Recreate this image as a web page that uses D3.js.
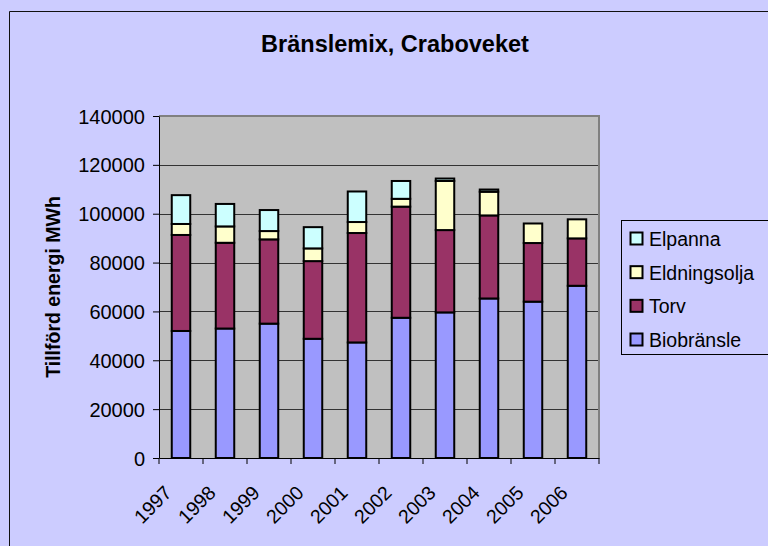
<!DOCTYPE html>
<html>
<head>
<meta charset="utf-8">
<script src="https://cdn.jsdelivr.net/npm/d3@7"></script>
<style>
  html, body { margin: 0; padding: 0; background: #CCCCFF; }
  svg { display: block; }
  text { font-family: Arial, "Liberation Sans", sans-serif; fill: #000; }
</style>
</head>
<body>
<svg id="chart" width="768" height="546"></svg>
<script>
// ---- data ----
const years = ["1997","1998","1999","2000","2001","2002","2003","2004","2005","2006"];
const biobransle   = [52000, 53000, 55000, 48800, 47300, 57400, 59600, 65300, 64000, 70500];
const torv         = [39300, 35100, 34500, 31800, 44800, 45500, 33700, 34000, 24000, 19400];
const eldningsolja = [ 4500,  6700,  3400,  5200,  4500,  3200, 20100,  9700,  8000,  7800];
const elpanna      = [11800,  9200,  8600,  8700, 12500,  7300,  1000,   900,     0,     0];
const seriesNames  = ["Biobränsle", "Torv", "Eldningsolja", "Elpanna"];
const seriesColors = ["#9999FF", "#993366", "#FFFFCC", "#CCFFFF"];
const yTicks = [0, 20000, 40000, 60000, 80000, 100000, 120000, 140000];
const chartTitle = "Bränslemix,  Craboveket";
const yTitle = "Tillförd energi MWh";

// ---- layout ----
const W = 768, H = 546;
const plot = { left: 159, right: 599, top: 116, bottom: 458 };

const svg = d3.select("#chart");

svg.append("rect").attr("x", 0).attr("y", 0).attr("width", W).attr("height", H).attr("fill", "#CCCCFF");
// chart area border
svg.append("path").attr("d", `M9.5,${H} V11.5 H${W}`).attr("fill", "none").attr("stroke", "#111").attr("stroke-width", 1);

const table = years.map((y, i) => ({
  year: y,
  "Biobränsle": biobransle[i],
  "Torv": torv[i],
  "Eldningsolja": eldningsolja[i],
  "Elpanna": elpanna[i]
}));
const stacked = d3.stack().keys(seriesNames)(table);

const x = d3.scaleBand().domain(years).range([plot.left, plot.right]).paddingInner(0).paddingOuter(0);
const y = d3.scaleLinear().domain([0, 140000]).range([plot.bottom, plot.top]);
const color = d3.scaleOrdinal().domain(seriesNames).range(seriesColors);

// plot area
svg.append("rect").attr("x", plot.left).attr("y", plot.top)
  .attr("width", plot.right - plot.left).attr("height", plot.bottom - plot.top)
  .attr("fill", "#C0C0C0");
svg.append("path")
  .attr("d", `M${plot.left},${plot.top} H${plot.right} V${plot.bottom}`)
  .attr("fill", "none").attr("stroke", "#808080").attr("stroke-width", 2);

// gridlines
svg.append("g").selectAll("line").data(yTicks.filter(t => t > 0 && t < 140000)).join("line")
  .attr("x1", plot.left).attr("x2", plot.right - 1)
  .attr("y1", d => Math.round(y(d)) + 0.5).attr("y2", d => Math.round(y(d)) + 0.5)
  .attr("stroke", "#333").attr("stroke-width", 1);

// bars
const barW = x.bandwidth() * 0.42;
svg.append("g").selectAll("g").data(stacked).join("g")
  .attr("fill", d => color(d.key))
  .selectAll("rect").data(d => d.filter(s => s[1] - s[0] > 0)).join("rect")
  .attr("x", d => x(d.data.year) + (x.bandwidth() - barW) / 2)
  .attr("width", barW)
  .attr("y", d => y(d[1]))
  .attr("height", d => y(d[0]) - y(d[1]))
  .attr("stroke", "#000").attr("stroke-width", 2);

// y axis
const yAxis = svg.append("g").attr("transform", `translate(${plot.left},0)`)
  .call(d3.axisLeft(y).tickValues(yTicks).tickSize(6).tickSizeOuter(0).tickPadding(8).tickFormat(d3.format("d")));
yAxis.select(".domain").attr("stroke", "#000");
yAxis.selectAll(".tick line").attr("stroke", "#000");
yAxis.selectAll(".tick text").attr("font-size", 20).attr("dy", null)
  .attr("dominant-baseline", "central");

// x axis
const xAxis = svg.append("g").attr("transform", `translate(0,${plot.bottom})`)
  .call(d3.axisBottom(x).tickSize(0).tickSizeOuter(0));
xAxis.select(".domain").attr("stroke", "#000");
xAxis.selectAll(".tick text").attr("font-size", 19.5).attr("y", 0).attr("dy", null)
  .attr("text-anchor", "end").attr("dominant-baseline", "central")
  .attr("transform", "translate(-13,31) rotate(-45)");
// category boundary ticks
svg.append("g").selectAll("line").data(d3.range(years.length + 1)).join("line")
  .attr("x1", i => plot.left + i * x.step()).attr("x2", i => plot.left + i * x.step())
  .attr("y1", plot.bottom).attr("y2", plot.bottom + 6)
  .attr("stroke", "#000");

// title
svg.append("text").attr("x", 395).attr("y", 44)
  .attr("text-anchor", "middle").attr("dominant-baseline", "central")
  .attr("font-size", 23.5).attr("font-weight", "bold").text(chartTitle);

// y title
svg.append("text").attr("transform", "translate(53,287) rotate(-90)")
  .attr("text-anchor", "middle").attr("dominant-baseline", "central")
  .attr("font-size", 19.5).attr("font-weight", "bold").text(yTitle);

// legend
const lg = { x: 621, y: 220, w: 160, h: 134 };
svg.append("rect").attr("x", lg.x + 0.5).attr("y", lg.y + 0.5).attr("width", lg.w).attr("height", lg.h)
  .attr("fill", "#CCCCFF").attr("stroke", "#000").attr("stroke-width", 1);
const legendOrder = seriesNames.slice().reverse();
const rowY = d3.scalePoint().domain(legendOrder).range([lg.y + 18, lg.y + 119]);
const items = svg.append("g").selectAll("g").data(legendOrder).join("g")
  .attr("transform", d => `translate(${lg.x},${rowY(d)})`);
items.append("rect").attr("x", 9.5).attr("y", -5.5).attr("width", 12).attr("height", 12)
  .attr("fill", d => color(d)).attr("stroke", "#000").attr("stroke-width", 2);
items.append("text").attr("x", 28).attr("y", 1)
  .attr("dominant-baseline", "central").attr("font-size", 19.5).text(d => d);
</script>
</body>
</html>
